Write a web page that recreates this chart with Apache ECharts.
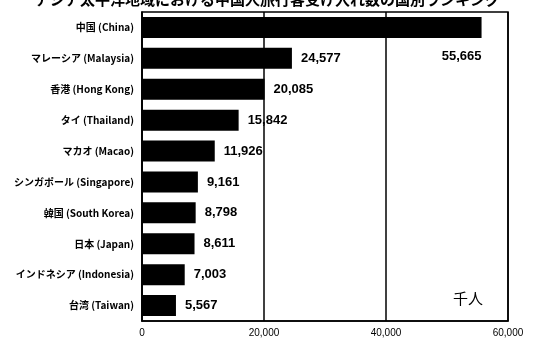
<!DOCTYPE html>
<html>
<head>
<meta charset="utf-8">
<script src="https://cdn.jsdelivr.net/npm/echarts@6/dist/echarts.min.js"></script>
<style>
html,body{margin:0;padding:0;background:#fff;}
#c{width:536px;height:338px;}
</style>
</head>
<body>
<div id="c"></div>
<script>
var titleText = 'アジア太平洋地域における中国人旅行客受け入れ数の国別ランキング';
var categories = ['中国 (China)', 'マレーシア (Malaysia)', '香港 (Hong Kong)', 'タイ (Thailand)', 'マカオ (Macao)', 'シンガポール (Singapore)', '韓国 (South Korea)', '日本 (Japan)', 'インドネシア (Indonesia)', '台湾 (Taiwan)'];
var values = [55665, 24577, 20085, 15842, 11926, 9161, 8798, 8611, 7003, 5567];
var xTicks = [0, 20000, 40000, 60000];
var unitText = '千人';

function fmt(v){ return String(v).replace(/\B(?=(\d{3})+(?!\d))/g, ','); }

var chart = echarts.init(document.getElementById('c'), null, {renderer:'canvas'});
var data = values.map(function(v, i){
  if (i === 0) {
    return {value: v, label: {position: ['100%', '100%'], align: 'right', verticalAlign: 'top', offset: [0, 12]}};
  }
  return v;
});
chart.setOption({
  animation: false,
  backgroundColor: '#fff',
  title: {
    text: titleText, left: 30, top: -13,
    textStyle: {fontFamily: 'Noto Sans CJK JP', fontWeight: 'bold', fontSize: 15, color: '#000'}
  },
  graphic: [{
    type: 'text', left: 453, top: 291,
    style: {text: unitText, fontFamily: 'Noto Sans CJK JP', fontSize: 15, fill: '#000'}
  }],
  grid: {left: 142, right: 28, top: 12, bottom: 16, show: true, borderColor: '#000', borderWidth: 1.5, containLabel: false},
  xAxis: {
    type: 'value', min: xTicks[0], max: xTicks[xTicks.length - 1], interval: 20000,
    axisLine: {show: true, lineStyle: {color: '#000', width: 1.5}},
    axisTick: {show: false},
    splitLine: {show: true, lineStyle: {color: '#000', width: 1.5}},
    axisLabel: {
      fontFamily: 'Liberation Sans', fontSize: 10, color: '#000', margin: 7,
      formatter: function(v){ return fmt(v); }
    }
  },
  yAxis: {
    type: 'category', data: categories, inverse: true,
    axisLine: {show: true, lineStyle: {color: '#000', width: 1.5}},
    axisTick: {show: false},
    axisLabel: {fontFamily: 'Noto Sans CJK JP', fontWeight: 'bold', fontSize: 10, color: '#000', margin: 8}
  },
  series: [{
    type: 'bar', data: data, barWidth: 21,
    itemStyle: {color: '#000'},
    label: {
      show: true, position: 'right', distance: 9,
      fontFamily: 'Liberation Sans', fontWeight: 'bold', fontSize: 13, color: '#000',
      formatter: function(p){ return fmt(p.value); }
    }
  }]
});
</script>
</body>
</html>
